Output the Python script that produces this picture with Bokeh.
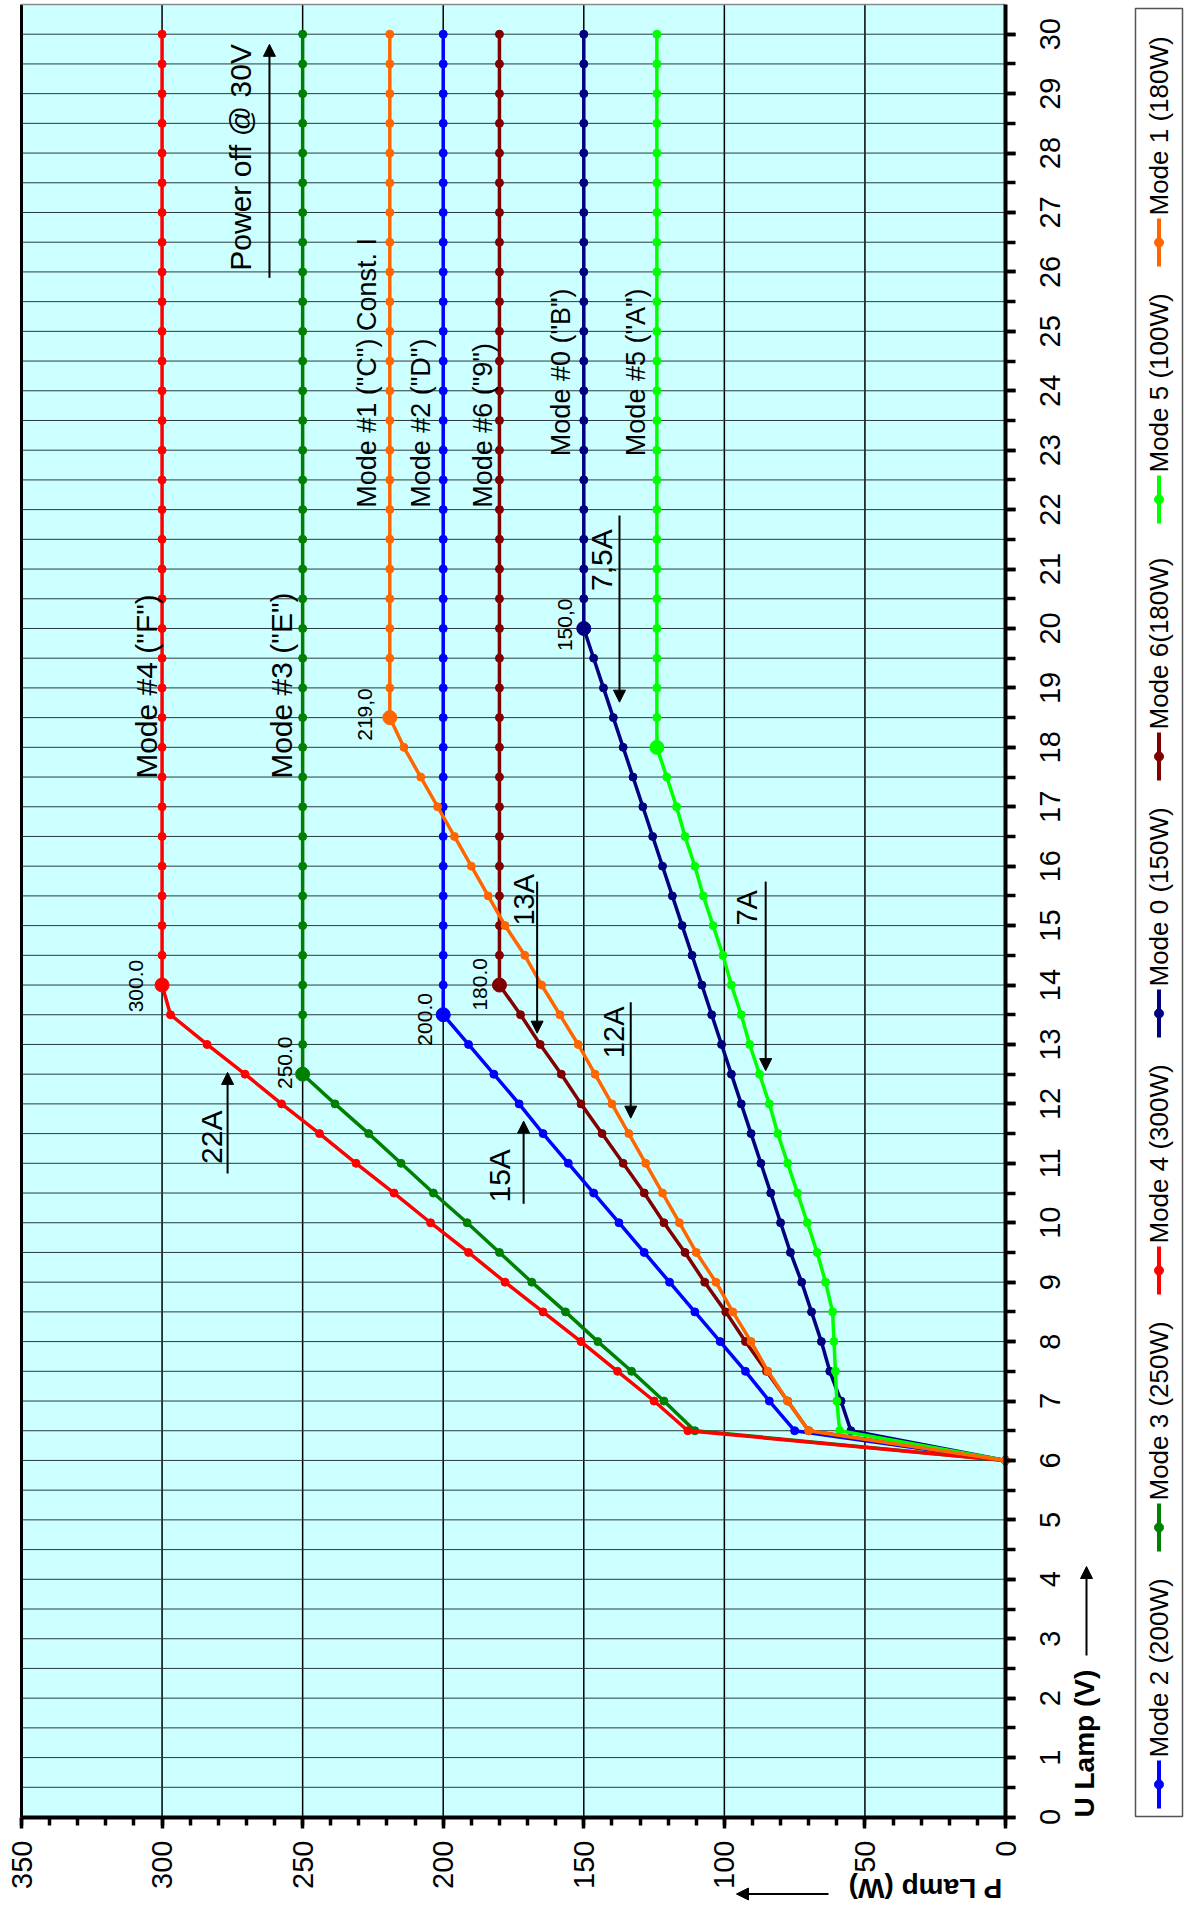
import math
from bokeh.plotting import figure
from bokeh.models import Range1d, FixedTicker, Arrow, NormalHead, CustomJSTickFormatter, ColumnDataSource
from bokeh.core.properties import value
from bokeh.embed import file_html
from bokeh.resources import INLINE

FONT = "Liberation Sans"

# ---------------- data (U lamp in V, P lamp in W) ----------------
u_volts = [6.0, 6.5, 7.0, 7.5, 8.0, 8.5, 9.0, 9.5, 10.0, 10.5, 11.0, 11.5, 12.0, 12.5,
           13.0, 13.5, 14.0, 14.5, 15.0, 15.5, 16.0, 16.5, 17.0, 17.5, 18.0, 18.5,
           19.0, 19.5, 20.0, 20.5, 21.0, 21.5, 22.0, 22.5, 23.0, 23.5, 24.0, 24.5,
           25.0, 25.5, 26.0, 26.5, 27.0, 27.5, 28.0, 28.5, 29.0, 29.5, 30.0]

mode2_200w = [0, 75, 84, 92.5, 101.5, 110.5, 119.5, 128.5, 137.5, 146.5, 155.5, 164.5, 173, 182,
              191, 200, 200, 200, 200, 200, 200, 200, 200, 200, 200, 200,
              200, 200, 200, 200, 200, 200, 200, 200, 200, 200, 200, 200,
              200, 200, 200, 200, 200, 200, 200, 200, 200, 200, 200]
mode3_250w = [0, 110.5, 121.5, 133, 145, 156.5, 168.5, 180, 191.5, 203.5, 215, 226.5, 238.5, 250,
              250, 250, 250, 250, 250, 250, 250, 250, 250, 250, 250, 250,
              250, 250, 250, 250, 250, 250, 250, 250, 250, 250, 250, 250,
              250, 250, 250, 250, 250, 250, 250, 250, 250, 250, 250]
mode4_300w = [0, 113, 125, 138, 151, 164.5, 178, 191, 204.5, 217.5, 231, 244, 257.5, 270.5,
              284, 297, 300, 300, 300, 300, 300, 300, 300, 300, 300, 300,
              300, 300, 300, 300, 300, 300, 300, 300, 300, 300, 300, 300,
              300, 300, 300, 300, 300, 300, 300, 300, 300, 300, 300]
mode0_150w = [0, 55, 58.5, 62.5, 65.5, 69, 72.5, 76.5, 80, 83.5, 87, 90.5, 94, 97.5,
              101, 104.5, 108, 111.5, 115, 118.5, 122, 125.5, 129, 132.5, 136, 139.5,
              143, 146.5, 150, 150, 150, 150, 150, 150, 150, 150, 150, 150,
              150, 150, 150, 150, 150, 150, 150, 150, 150, 150, 150]
mode6_180w = [0, 70, 77.5, 85, 92.5, 99.5, 107, 114, 121.5, 128.5, 136, 143.5, 151, 158,
              165.5, 172.5, 180, 180, 180, 180, 180, 180, 180, 180, 180, 180,
              180, 180, 180, 180, 180, 180, 180, 180, 180, 180, 180, 180,
              180, 180, 180, 180, 180, 180, 180, 180, 180, 180, 180]
mode5_100w = [0, 59, 60, 60.5, 61, 61.5, 64, 67, 70.5, 74, 77.5, 81, 84, 87.5,
              91, 94, 97.5, 100.5, 104, 107.5, 110.5, 114, 117, 120.5, 124, 124,
              124, 124, 124, 124, 124, 124, 124, 124, 124, 124, 124, 124,
              124, 124, 124, 124, 124, 124, 124, 124, 124, 124, 124]
mode1_180w = [0, 70, 77.5, 84.5, 90.5, 97, 103, 110, 116, 122, 128, 134, 140, 146,
              152, 158.5, 165, 171, 178, 184, 190, 196, 202, 208, 214, 219,
              219, 219, 219, 219, 219, 219, 219, 219, 219, 219, 219, 219,
              219, 219, 219, 219, 219, 219, 219, 219, 219, 219, 219]

series_names = ["Mode 2 (200W)", "Mode 3 (250W)", "Mode 4 (300W)", "Mode 0 (150W)",
                "Mode 6(180W)", "Mode 5 (100W)", "Mode 1 (180W)"]
series_values = [mode2_200w, mode3_250w, mode4_300w, mode0_150w, mode6_180w, mode5_100w, mode1_180w]
series_colors = ["#0000FF", "#008000", "#FF0000", "#000080", "#800000", "#00FF00", "#FF6600"]

p_ticks = [0, 50, 100, 150, 200, 250, 300, 350]
p_grid = [50, 100, 150, 200, 250, 300]
p_minor = [0, 10, 20, 30, 40, 50, 60, 70, 80, 90, 100, 110, 120, 130, 140, 150, 160, 170, 180,
           190, 200, 210, 220, 230, 240, 250, 260, 270, 280, 290, 300, 310, 320, 330, 340, 350]
u_ticks = [0, 1, 2, 3, 4, 5, 6, 7, 8, 9, 10, 11, 12, 13, 14, 15, 16, 17, 18, 19, 20,
           21, 22, 23, 24, 25, 26, 27, 28, 29, 30]
u_half = [0, 0.5, 1, 1.5, 2, 2.5, 3, 3.5, 4, 4.5, 5, 5.5, 6, 6.5, 7, 7.5, 8, 8.5, 9, 9.5, 10,
          10.5, 11, 11.5, 12, 12.5, 13, 13.5, 14, 14.5, 15, 15.5, 16, 16.5, 17, 17.5, 18, 18.5,
          19, 19.5, 20, 20.5, 21, 21.5, 22, 22.5, 23, 23.5, 24, 24.5, 25, 25.5, 26, 26.5, 27,
          27.5, 28, 28.5, 29, 29.5, 30]
P_MAX = 350
U_MAX = 30.5

# annotations: (text, P at baseline, U at start, font size px)
mode_texts = [
    ('Mode #4  ("F")', 301.7, 17.47, 30),
    ('Mode #3  ("E")', 253.8, 17.47, 30),
    ('Power off @ 30V', 268.3, 26.02, 30),
    ('Mode #1 ("C") Const. I', 223.8, 22.03, 27),
    ('Mode #2 ("D")', 204.6, 22.03, 27),
    ('Mode #6 ("9")', 182.6, 22.03, 27),
    ('Mode #0 ("B")', 154.7, 22.9, 27),
    ('Mode #5 ("A")', 128.1, 22.9, 27),
    ('22A', 278.7, 10.99, 30),
    ('15A', 176.1, 10.34, 30),
    ('13A', 167.6, 15.0, 29),
    ('12A', 135.6, 12.77, 29),
    ('7A', 88.5, 15.0, 29),
    ('7,5A', 139.9, 20.63, 30),
    ('300.0', 306.5, 13.54, 21),
    ('250.0', 253.8, 12.25, 21),
    ('219,0', 225.3, 18.11, 21),
    ('200.0', 204.0, 12.98, 21),
    ('180.0', 184.4, 13.57, 21),
    ('150,0', 154.2, 19.62, 21),
]
# arrows: (P, U start, U tip)
arrows = [
    (276.7, 10.83, 12.53),
    (171.4, 10.32, 11.71),
    (166.6, 15.74, 13.19),
    (133.3, 13.71, 11.76),
    (137.3, 21.9, 18.76),
    (85.3, 15.74, 12.56),
    (261.8, 25.9, 29.83),
]

# ---------------- page geometry (pixels) ----------------
W_PX, H_PX = 1185, 1906
A_LEFT, A_RIGHT, A_TOP, A_BOTTOM = 21.0, 1005.0, 4.0, 1816.5
KX = (A_RIGHT - A_LEFT) / P_MAX
KY = (A_BOTTOM - A_TOP) / U_MAX
MID = 0.35  # centre of the text box above the baseline, in em


def p_at(xpx):
    return (A_RIGHT - xpx) / KX


def u_at(ypx):
    return (A_BOTTOM - ypx) / KY


p = figure(frame_width=W_PX, frame_height=H_PX, min_border=0,
           x_range=Range1d(p_at(0), p_at(W_PX)), y_range=Range1d(u_at(H_PX), u_at(0)),
           x_axis_location="below", y_axis_location="right",
           output_backend="svg", toolbar_location=None)
p.background_fill_color = "white"
p.border_fill_color = "white"
p.outline_line_color = None
p.xgrid.visible = False
p.ygrid.visible = False

# plot area
p.quad(left=[P_MAX], right=[0], bottom=[0], top=[U_MAX], fill_color="#CCFFFF", line_color=None)
p.segment(x0=p_grid, y0=[0] * len(p_grid), x1=p_grid, y1=[U_MAX] * len(p_grid),
          line_color="black", line_width=1.5)
p.segment(x0=[0] * len(u_half), y0=u_half, x1=[P_MAX] * len(u_half), y1=u_half,
          line_color="#2a3a3a", line_width=1)
p.segment(x0=[P_MAX], y0=[0], x1=[P_MAX], y1=[U_MAX], line_color="black", line_width=3)
p.segment(x0=[0], y0=[U_MAX], x1=[P_MAX], y1=[U_MAX], line_color="#8a8a8a", line_width=1.5)

# axes (lines and ticks), fixed on the plot area edges
blank = CustomJSTickFormatter(code="return ''")
xa = p.xaxis[0]
ya = p.yaxis[0]
xa.fixed_location = 0
xa.bounds = (0, P_MAX)
xa.ticker = FixedTicker(ticks=p_ticks, minor_ticks=p_minor)
xa.major_tick_out = 11
xa.minor_tick_out = 8
ya.fixed_location = 0
ya.bounds = (0, U_MAX)
ya.ticker = FixedTicker(ticks=u_ticks, minor_ticks=u_half)
ya.major_tick_out = 10
ya.minor_tick_out = 10
for ax in (xa, ya):
    ax.formatter = blank
    ax.major_label_standoff = 0
    ax.axis_line_width = 4
    ax.axis_line_color = "black"
    ax.major_tick_line_width = 3.5
    ax.minor_tick_line_width = 3.5
    ax.major_tick_in = 0
    ax.minor_tick_in = 0

# tick labels
p.text(x=[p_at(1049)] * len(u_ticks), y=u_ticks, text=[str(t) for t in u_ticks],
       angle=math.pi / 2, text_align="center", text_baseline="middle",
       text_font=value(FONT), text_font_size="29px", text_color="black")
p.text(x=p_ticks, y=[u_at(1840)] * len(p_ticks), text=[str(t) for t in p_ticks],
       angle=math.pi / 2, text_align="right", text_baseline="middle",
       text_font=value(FONT), text_font_size="29px", text_color="black")

# axis titles (anchor = centre of the text box)
p.text(x=[p_at(1093.3 - MID * 28)], y=[u_at(1817)], text=["U Lamp (V)"], angle=math.pi / 2,
       text_align="left", text_baseline="middle", text_font=value(FONT),
       text_font_style="bold", text_font_size="28px", text_color="black")
p.add_layout(Arrow(x_start=p_at(1086), y_start=u_at(1655), x_end=p_at(1086), y_end=u_at(1566),
                   line_width=2, line_color="black",
                   end=NormalHead(size=12, fill_color="black", line_color="black")))
p.text(x=[p_at(1001.7)], y=[u_at(1878.3 + MID * 28)], text=["P Lamp (W)"], angle=math.pi,
       text_align="left", text_baseline="middle", text_font=value(FONT),
       text_font_style="bold", text_font_size="28px", text_color="black")
p.add_layout(Arrow(x_start=p_at(828), y_start=u_at(1893.5), x_end=p_at(736), y_end=u_at(1893.5),
                   line_width=2, line_color="black",
                   end=NormalHead(size=12, fill_color="black", line_color="black")))

# series
for vals, col in zip(series_values, series_colors):
    p.line(x=vals, y=u_volts, line_color=col, line_width=3.5)
    p.scatter(x=vals, y=u_volts, marker="circle", size=8, fill_color=col, line_color=col)
    k = vals.index(max(vals))
    p.scatter(x=[vals[k]], y=[u_volts[k]], marker="circle", size=14, fill_color=col, line_color=col)

# annotations inside the plot (text reads upwards, glyph tops point to larger P)
for size in (21, 27, 29, 30):
    rows = [m for m in mode_texts if m[3] == size]
    src = ColumnDataSource(dict(x=[r[1] + MID * size / KX for r in rows], y=[r[2] for r in rows],
                                t=[r[0] for r in rows]))
    p.text(x="x", y="y", text="t", source=src, angle=math.pi / 2, text_align="left",
           text_baseline="middle", text_font=value(FONT), text_font_size=f"{size}px",
           text_color="black")

for px, u0, u1 in arrows:
    p.add_layout(Arrow(x_start=px, y_start=u0, x_end=px, y_end=u1, line_width=2, line_color="black",
                       end=NormalHead(size=12, fill_color="black", line_color="black")))

# legend (rotated, drawn as a box at the right)
p.quad(left=[p_at(1135)], right=[p_at(1182)], bottom=[u_at(1816)], top=[u_at(8)],
       fill_color="white", line_color="#555555", line_width=1.5)
lx = p_at(1158.5)
for i, (name, col) in enumerate(zip(series_names, series_colors)):
    yc = 1784 - 257 * i
    p.segment(x0=[lx], y0=[u_at(yc + 24)], x1=[lx], y1=[u_at(yc - 24)], line_color=col, line_width=4)
    p.scatter(x=[lx], y=[u_at(yc)], marker="circle", size=9, fill_color=col, line_color=col)
    p.text(x=[lx], y=[u_at(yc - 27)], text=[name], angle=math.pi / 2, text_align="left",
           text_baseline="middle", text_font=value(FONT), text_font_size="26px",
           text_color="black")

open("out.html", "w").write(file_html(p, INLINE))
